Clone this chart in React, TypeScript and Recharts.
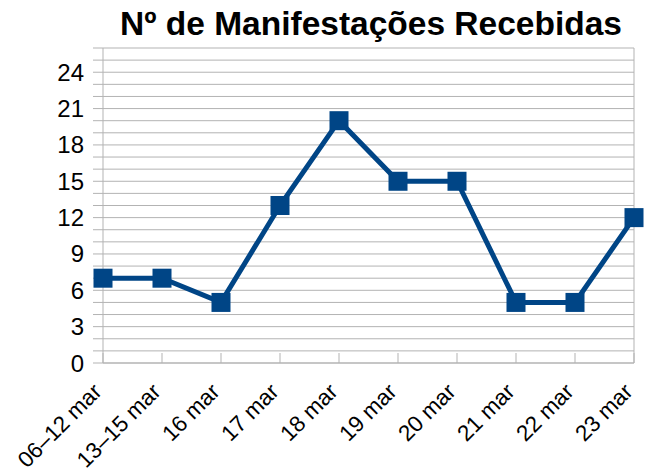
import { LineChart, Line, XAxis, YAxis, CartesianGrid, ReferenceLine } from "recharts";

const categories = ["06–12 mar", "13–15 mar", "16 mar", "17 mar", "18 mar", "19 mar", "20 mar", "21 mar", "22 mar", "23 mar"];
const manifestacoes = [7, 7, 5, 13, 20, 15, 15, 5, 5, 12];
const yTicks = [0, 1, 2, 3, 4, 5, 6, 7, 8, 9, 10, 11, 12, 13, 14, 15, 16, 17, 18, 19, 20, 21, 22, 23, 24, 25, 26];

const data = categories.map((name, i) => ({ name, value: manifestacoes[i] }));

const FONT = "'Liberation Sans', Arial, sans-serif";
const GRID = "#b3b3b3";
const BLUE = "#004586";

function SquareDot(props: any) {
  const { cx, cy } = props;
  if (cx == null || cy == null) return null;
  return <rect x={cx - 9.5} y={cy - 9.5} width={19} height={19} fill={BLUE} />;
}

function XTick(props: any) {
  const { x, y, payload } = props;
  const ax = x;
  const ay = y + 30;
  return (
    <g>
      <line x1={x} y1={y} x2={x} y2={y - 10} stroke={GRID} strokeWidth={1} />
      <text
        x={ax}
        y={ay}
        textAnchor="end"
        fontSize={22.5}
        fontFamily={FONT}
        fill="#000"
        transform={`rotate(-45, ${ax}, ${ay})`}
      >
        {payload.value}
      </text>
    </g>
  );
}

export default function App() {
  return (
    <div style={{ position: "fixed", left: 0, top: 0, width: 646, height: 472, background: "#fff" }}>
      <LineChart width={646} height={472} data={data} margin={{ top: 48, right: 12, left: 0, bottom: 0 }}>
        <CartesianGrid vertical={false} stroke={GRID} strokeWidth={1} />
        <XAxis
          dataKey="name"
          padding={{ left: 0, right: 0 }}
          height={109}
          interval={0}
          stroke={GRID}
          tickLine={false}
          tickSize={0}
          tickMargin={0}
          tick={<XTick />}
        />
        <YAxis
          domain={[0, 26]}
          ticks={yTicks}
          interval={0}
          width={103}
          stroke={GRID}
          tickSize={10}
          tickMargin={9}
          tickFormatter={(v: number) => (v % 3 === 0 && v <= 24 ? String(v) : "")}
          tick={{ fill: "#000", fontSize: 24, fontFamily: FONT }}
        />
        <ReferenceLine x="23 mar" stroke={GRID} strokeWidth={1} />
        <Line
          type="linear"
          dataKey="value"
          stroke={BLUE}
          strokeWidth={5}
          dot={<SquareDot />}
          activeDot={false}
          isAnimationActive={false}
        />
      </LineChart>
      <svg width={646} height={472} style={{ position: "absolute", left: 0, top: 0, pointerEvents: "none" }}>
        <text x={371} y={35} textAnchor="middle" fontSize={33.5} fontWeight="bold" fontFamily={FONT} fill="#000">
          Nº de Manifestações Recebidas
        </text>
      </svg>
    </div>
  );
}
